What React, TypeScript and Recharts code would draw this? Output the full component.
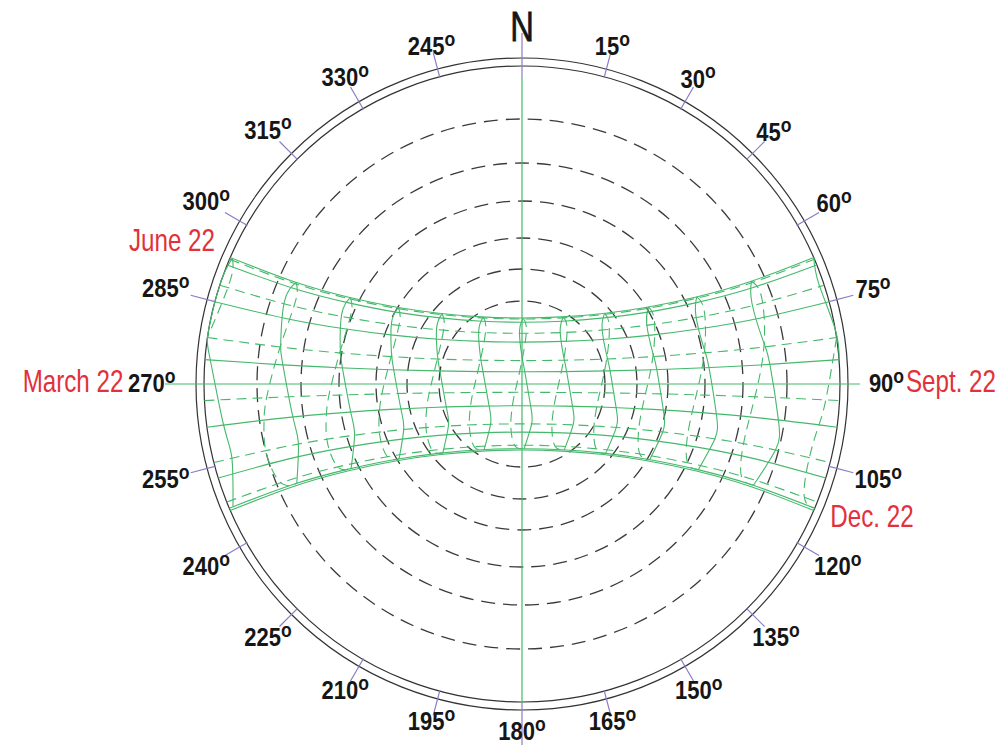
import React from "react";
import {
  LineChart,
  Line,
  XAxis,
  YAxis,
  ReferenceLine,
  ReferenceDot,
  RadarChart,
  PolarGrid,
  PolarAngleAxis,
  Radar,
} from "recharts";

const W = 1006;
const H = 747;
const CX = 522;
const CY = 384;
const GREEN = "#44b96b";
const PURPLE = "#8a7cc4";
const RED = "#e2313a";
const INK = "#161616";
// Arial-like face squeezed sideways to stand in for the narrow face of the original
const FONT = "'Liberation Sans', Arial, sans-serif";

// bearings round the rim and what is printed at them (the one before N reads 245 in the original)
const BEARINGS = [0, 15, 30, 45, 60, 75, 90, 105, 120, 135, 150, 165, 180, 195, 210, 225, 240, 255, 270, 285, 300, 315, 330, 345];
const BEARING_LABELS = ["N", "15", "30", "45", "60", "75", "90", "105", "120", "135", "150", "165", "180", "195", "210", "225", "240", "255", "270", "285", "300", "315", "330", "245"];

// altitude rings (10..60 deg) and the double rim, radii in px
const ALT_RINGS = [83, 115, 146, 183, 221, 265];
const RIM_RINGS = [318, 326];

// axis extents, px from centre
const EW_AXIS = [-357, 338];
const NS_AXIS = [306, -319];

// day paths, px from centre (x right, y up)
const JUN_22 = [[-291.8, 126.5], [-227.8, 102.2], [-173.2, 86.7], [-125.1, 76.7], [-81.3, 70.5], [-40.0, 67.1], [0, 66.0], [40.0, 67.1], [81.3, 70.5], [125.1, 76.7], [173.2, 86.7], [227.8, 102.2], [291.8, 126.5]];
const JUL_1 = [[-292.5, 124.8], [-228.2, 100.8], [-173.5, 85.5], [-125.3, 75.6], [-81.4, 69.5], [-40.1, 66.1], [0, 65.0], [40.1, 66.1], [81.4, 69.5], [125.3, 75.6], [173.5, 85.5], [228.2, 100.8], [292.5, 124.8]];
const JUN_1 = [[-294.8, 119.1], [-229.7, 96.0], [-174.4, 81.4], [-125.9, 71.9], [-81.8, 66.1], [-40.3, 62.8], [0, 61.8], [40.3, 62.8], [81.8, 66.1], [125.9, 71.9], [174.4, 81.4], [229.7, 96.0], [294.8, 119.1]];
const AUG_1 = [[-302.3, 98.8], [-234.3, 79.3], [-177.5, 67.0], [-127.8, 59.1], [-82.9, 54.2], [-40.8, 51.5], [0, 50.7], [40.8, 51.5], [82.9, 54.2], [127.8, 59.1], [177.5, 67.0], [234.3, 79.3], [302.3, 98.8]];
const MAY_1 = [[-307.2, 82.3], [-237.4, 65.8], [-179.4, 55.5], [-129.1, 48.9], [-83.6, 44.8], [-41.1, 42.6], [0, 41.9], [41.1, 42.6], [83.6, 44.8], [129.1, 48.9], [179.4, 55.5], [237.4, 65.8], [307.2, 82.3]];
const SEP_1 = [[-314.6, 46.5], [-241.9, 37.0], [-182.3, 31.1], [-130.9, 27.4], [-84.7, 25.0], [-41.6, 23.8], [0, 23.4], [41.6, 23.8], [84.7, 25.0], [130.9, 27.4], [182.3, 31.1], [241.9, 37.0], [314.6, 46.5]];
const APR_1 = [[-317.1, 24.4], [-243.5, 19.4], [-183.2, 16.3], [-131.5, 14.3], [-85.1, 13.1], [-41.8, 12.4], [0, 12.2], [41.8, 12.4], [85.1, 13.1], [131.5, 14.3], [183.2, 16.3], [243.5, 19.4], [317.1, 24.4]];
const OCT_1 = [[-317.6, -16.6], [-243.8, -13.2], [-183.4, -11.1], [-131.6, -9.7], [-85.2, -8.9], [-41.8, -8.5], [0, -8.3], [41.8, -8.5], [85.2, -8.9], [131.6, -9.7], [183.4, -11.1], [243.8, -13.2], [317.6, -16.6]];
const MAR_1 = [[-315.0, -43.2], [-242.2, -34.4], [-182.4, -28.9], [-131.0, -25.4], [-84.8, -23.2], [-41.7, -22.1], [0, -21.7], [41.7, -22.1], [84.8, -23.2], [131.0, -25.4], [182.4, -28.9], [242.2, -34.4], [315.0, -43.2]];
const NOV_1 = [[-308.1, -78.5], [-237.9, -62.8], [-179.7, -52.9], [-129.3, -46.6], [-83.8, -42.7], [-41.2, -40.5], [0, -39.9], [41.2, -40.5], [83.8, -42.7], [129.3, -46.6], [179.7, -52.9], [237.9, -62.8], [308.1, -78.5]];
const FEB_1 = [[-303.8, -94.0], [-235.3, -75.4], [-178.0, -63.6], [-128.2, -56.1], [-83.1, -51.4], [-40.9, -48.9], [0, -48.1], [40.9, -48.9], [83.1, -51.4], [128.2, -56.1], [178.0, -63.6], [235.3, -75.4], [303.8, -94.0]];
const DEC_1 = [[-295.3, -118.1], [-230.0, -95.2], [-174.6, -80.7], [-126.1, -71.3], [-81.8, -65.5], [-40.3, -62.3], [0, -61.2], [40.3, -62.3], [81.8, -65.5], [126.1, -71.3], [174.6, -80.7], [230.0, -95.2], [295.3, -118.1]];
const JAN_1 = [[-292.7, -124.2], [-228.3, -100.3], [-173.6, -85.1], [-125.4, -75.2], [-81.4, -69.1], [-40.1, -65.7], [0, -64.7], [40.1, -65.7], [81.4, -69.1], [125.4, -75.2], [173.6, -85.1], [228.3, -100.3], [292.7, -124.2]];
const DEC_22 = [[-291.8, -126.5], [-227.8, -102.2], [-173.2, -86.7], [-125.1, -76.7], [-81.3, -70.5], [-40.0, -67.1], [0, -66.0], [40.0, -67.1], [81.3, -70.5], [125.1, -76.7], [173.2, -86.7], [227.8, -102.2], [291.8, -126.5]];

// hour analemmas: solid half runs Jan -> Jun, dashed half Jun -> Jan
const H12_S = [[2.1, -64.7], [9.7, -39.9], [8.6, -21.7], [2.8, 12.2], [0, 27.2], [-2.5, 52.1], [1.2, 66.0]];
const H12_D = [[1.2, 66.0], [4.4, 54.6], [0, 23.4], [-7.1, -8.3], [-9.8, -23.6], [-11.2, -41.9], [-7.4, -61.2], [2.1, -64.7]];
const H13_S = [[-37.9, -65.6], [-31.4, -40.2], [-32.9, -21.9], [-39.0, 12.4], [-41.6, 27.7], [-43.3, 53.0], [-38.8, 67.0]];
const H13_D = [[-38.8, 67.0], [-36.2, 55.3], [-41.6, 23.8], [-49.1, -8.5], [-51.7, -24.2], [-52.6, -43.0], [-47.8, -62.6], [-37.9, -65.6]];
const H11_S = [[42.3, -65.9], [51.1, -40.9], [50.5, -22.2], [44.6, 12.5], [41.6, 27.7], [38.2, 52.8], [41.3, 67.1]];
const H11_D = [[41.3, 67.1], [45.1, 55.7], [41.6, 23.8], [34.7, -8.4], [31.8, -23.8], [29.9, -42.2], [32.9, -61.9], [42.3, -65.9]];
const H14_S = [[-79.2, -68.9], [-73.6, -42.0], [-75.7, -22.9], [-82.1, 13.0], [-84.6, 29.2], [-85.4, 55.9], [-80.0, 70.4]];
const H14_D = [[-80.0, 70.4], [-77.9, 58.0], [-84.7, 25.0], [-92.8, -9.0], [-95.4, -25.7], [-95.8, -45.7], [-89.8, -66.3], [-79.2, -68.9]];
const H10_S = [[83.7, -69.4], [94.3, -43.4], [94.1, -23.6], [88.1, 13.2], [84.6, 29.2], [80.1, 55.5], [82.6, 70.6]];
const H10_D = [[82.6, 70.6], [87.2, 58.8], [84.7, 25.0], [77.7, -8.8], [74.4, -24.9], [71.9, -44.0], [74.1, -64.7], [83.7, -69.4]];
const H15_S = [[-122.9, -74.8], [-118.3, -45.4], [-121.1, -24.8], [-128.3, 14.2], [-130.6, 31.9], [-130.5, 61.1], [-123.8, 76.5]];
const H15_D = [[-123.8, 76.5], [-122.2, 62.9], [-130.9, 27.4], [-140.1, -9.9], [-142.6, -28.4], [-142.4, -50.4], [-134.7, -72.7], [-122.9, -74.8]];
const H9_S = [[127.8, -75.6], [140.8, -47.8], [141.3, -26.0], [134.8, 14.4], [130.6, 31.9], [124.7, 60.3], [126.5, 77.0]];
const H9_D = [[126.5, 77.0], [132.3, 64.4], [130.9, 27.4], [123.5, -9.6], [119.7, -27.0], [116.5, -47.5], [117.8, -70.0], [127.8, -75.6]];
const H16_S = [[-170.9, -84.4], [-167.4, -51.1], [-171.3, -28.0], [-179.6, 16.1], [-181.8, 36.2], [-180.4, 69.4], [-171.7, 86.3]];
const H16_D = [[-171.7, 86.3], [-170.8, 71.0], [-182.3, 31.1], [-193.1, -11.4], [-195.7, -32.6], [-194.7, -57.8], [-184.4, -82.8], [-170.9, -84.4]];
const H8_S = [[176.3, -85.7], [192.9, -54.8], [194.3, -29.8], [187.0, 16.4], [181.8, 36.2], [173.9, 68.2], [174.8, 87.1]];
const H8_D = [[174.8, 87.1], [182.2, 73.3], [182.3, 31.1], [174.3, -10.8], [169.7, -30.4], [165.3, -53.3], [165.4, -78.6], [176.3, -85.7]];
const H17_S = [[-225.2, -99.3], [-223.6, -60.0], [-229.1, -33.0], [-239.1, 19.1], [-241.2, 43.1], [-237.6, 82.4], [-226.0, 101.7]];
const H17_D = [[-226.0, 101.7], [-226.3, 83.6], [-241.9, 37.0], [-255.4, -13.7], [-258.0, -39.3], [-255.6, -69.6], [-241.3, -98.6], [-225.2, -99.3]];
const H7_S = [[231.5, -101.3], [253.6, -65.8], [256.4, -35.9], [247.9, 19.7], [241.2, 43.1], [230.0, 80.5], [229.5, 102.8]];
const H7_D = [[229.5, 102.8], [239.5, 87.1], [241.9, 37.0], [232.9, -12.8], [227.1, -35.7], [221.0, -62.5], [219.4, -92.0], [231.5, -101.3]];
const H18_S = [[-289.0, -122.6], [-290.1, -74.1], [-298.4, -41.0], [-311.7, 24.0], [-313.4, 54.1], [-301.4, 101.4], [-289.7, 125.6]];
const H18_D = [[-289.7, 125.6], [-291.8, 103.3], [-314.6, 46.5]];
const H6_S = [[317.1, 24.4], [313.4, 54.1], [296.9, 99.9], [291.8, 126.5]];
const H6_D = [[314.6, 46.5], [303.8, -15.9], [295.8, -44.3], [286.6, -77.0], [282.3, -113.1], [292.7, -124.2]];

const PATHS = [
  { id: "jun22", points: JUN_22, dashed: false },
  { id: "jul1", points: JUL_1, dashed: true },
  { id: "jun1", points: JUN_1, dashed: false },
  { id: "aug1", points: AUG_1, dashed: true },
  { id: "may1", points: MAY_1, dashed: false },
  { id: "sep1", points: SEP_1, dashed: true },
  { id: "apr1", points: APR_1, dashed: false },
  { id: "oct1", points: OCT_1, dashed: true },
  { id: "mar1", points: MAR_1, dashed: false },
  { id: "nov1", points: NOV_1, dashed: true },
  { id: "feb1", points: FEB_1, dashed: false },
  { id: "dec1", points: DEC_1, dashed: true },
  { id: "jan1", points: JAN_1, dashed: false },
  { id: "dec22", points: DEC_22, dashed: false },
  { id: "h6s", points: H6_S, dashed: false },
  { id: "h6d", points: H6_D, dashed: true },
  { id: "h7s", points: H7_S, dashed: false },
  { id: "h7d", points: H7_D, dashed: true },
  { id: "h8s", points: H8_S, dashed: false },
  { id: "h8d", points: H8_D, dashed: true },
  { id: "h9s", points: H9_S, dashed: false },
  { id: "h9d", points: H9_D, dashed: true },
  { id: "h10s", points: H10_S, dashed: false },
  { id: "h10d", points: H10_D, dashed: true },
  { id: "h11s", points: H11_S, dashed: false },
  { id: "h11d", points: H11_D, dashed: true },
  { id: "h12s", points: H12_S, dashed: false },
  { id: "h12d", points: H12_D, dashed: true },
  { id: "h13s", points: H13_S, dashed: false },
  { id: "h13d", points: H13_D, dashed: true },
  { id: "h14s", points: H14_S, dashed: false },
  { id: "h14d", points: H14_D, dashed: true },
  { id: "h15s", points: H15_S, dashed: false },
  { id: "h15d", points: H15_D, dashed: true },
  { id: "h16s", points: H16_S, dashed: false },
  { id: "h16d", points: H16_D, dashed: true },
  { id: "h17s", points: H17_S, dashed: false },
  { id: "h17d", points: H17_D, dashed: true },
  { id: "h18s", points: H18_S, dashed: false },
  { id: "h18d", points: H18_D, dashed: true },
];

const rimData = BEARINGS.map((deg) => ({ deg, v: 0 }));
const toPoints = (arr: number[][]) => arr.map(([x, y]) => ({ x, y }));

function BearingTick(props: any) {
  const deg = Number(props.payload?.value);
  const text = BEARING_LABELS[BEARINGS.indexOf(deg)];
  const rad = (deg * Math.PI) / 180;
  const sx = Math.sin(rad);
  const sy = -Math.cos(rad);
  const at = (r: number) => ({ x: CX + r * sx, y: CY + r * sy });

  let tick = null;
  if (deg !== 90 && deg !== 270) {
    const [r0, r1] = deg === 0 ? [306, 351] : deg === 180 ? [319, 361] : [317, 343];
    const a = at(r0);
    const b = at(r1);
    tick = <line x1={a.x} y1={a.y} x2={b.x} y2={b.y} stroke={PURPLE} strokeWidth={1.2} />;
  }

  if (deg === 0) {
    const p = at(357);
    return (
      <g>
        {tick}
        <text
          transform={`translate(${p.x},${p.y}) scale(0.78,1)`}
          textAnchor="middle"
          dominantBaseline="central"
          fontSize={42}
          fontFamily={FONT}
          fill={INK}
          stroke={INK}
          strokeWidth={0.8}
        >
          {text}
        </text>
      </g>
    );
  }

  const half = (text.length * 11.5 + 10) / 2;
  const p = at(348 + half * sx * sx);
  return (
    <g>
      {tick}
      <text
        transform={`translate(${p.x},${p.y}) scale(0.88,1)`}
        textAnchor="middle"
        dominantBaseline="central"
        fontSize={25}
        fontWeight="bold"
        fontFamily={FONT}
        fill={INK}
      >
        {text}
        <tspan fontSize={20} dy={-8}>o</tspan>
      </text>
    </g>
  );
}

const dateText = (value: string) => (p: any) => (
  <text
    transform={`translate(${p.cx},${p.cy}) scale(0.78,1)`}
    textAnchor="middle"
    dominantBaseline="central"
    fontSize={31}
    fontFamily={FONT}
    fill={RED}
  >
    {value}
  </text>
);

export default function App() {
  return (
    <div style={{ position: "absolute", left: 0, top: 0, width: W, height: H, background: "#fff" }}>
      <div style={{ position: "absolute", left: 0, top: 0 }}>
        <RadarChart
          width={W}
          height={H}
          cx={CX}
          cy={CY}
          outerRadius={326}
          startAngle={90}
          endAngle={-270}
          data={rimData}
          margin={{ top: 0, right: 0, bottom: 0, left: 0 }}
        >
          <PolarGrid gridType="circle" radialLines={false} polarRadius={ALT_RINGS} stroke="#3a3a3a" strokeWidth={1.3} strokeDasharray="14 8" />
          <PolarGrid gridType="circle" radialLines={false} polarRadius={RIM_RINGS} stroke="#333" strokeWidth={1.2} />
          <PolarAngleAxis dataKey="deg" axisLine={false} tickLine={false} tick={BearingTick} />
          <Radar dataKey="v" stroke="none" fill="none" dot={false} isAnimationActive={false} />
        </RadarChart>
      </div>
      <div style={{ position: "absolute", left: 0, top: 0 }}>
        <LineChart width={W} height={H} margin={{ top: 0, right: 0, bottom: 0, left: 0 }}>
          <XAxis type="number" dataKey="x" domain={[-CX, W - CX]} hide allowDataOverflow />
          <YAxis type="number" dataKey="y" domain={[CY - H, CY]} hide allowDataOverflow />
          <ReferenceLine segment={[{ x: EW_AXIS[0], y: 0 }, { x: EW_AXIS[1], y: 0 }]} stroke={GREEN} strokeWidth={1.2} />
          <ReferenceLine segment={[{ x: 0, y: NS_AXIS[0] }, { x: 0, y: NS_AXIS[1] }]} stroke={GREEN} strokeWidth={1.2} />
          {PATHS.map((p) => (
            <Line
              key={p.id}
              data={toPoints(p.points)}
              dataKey="y"
              type="natural"
              stroke={GREEN}
              strokeWidth={1.1}
              strokeDasharray={p.dashed ? "10 6" : undefined}
              dot={false}
              activeDot={false}
              isAnimationActive={false}
            />
          ))}
          <ReferenceDot x={-350} y={144} r={1} shape={dateText("June 22")} />
          <ReferenceDot x={-449} y={3} r={1} shape={dateText("March  22")} />
          <ReferenceDot x={429} y={3} r={1} shape={dateText("Sept.  22")} />
          <ReferenceDot x={350} y={-132} r={1} shape={dateText("Dec.  22")} />
        </LineChart>
      </div>
    </div>
  );
}
